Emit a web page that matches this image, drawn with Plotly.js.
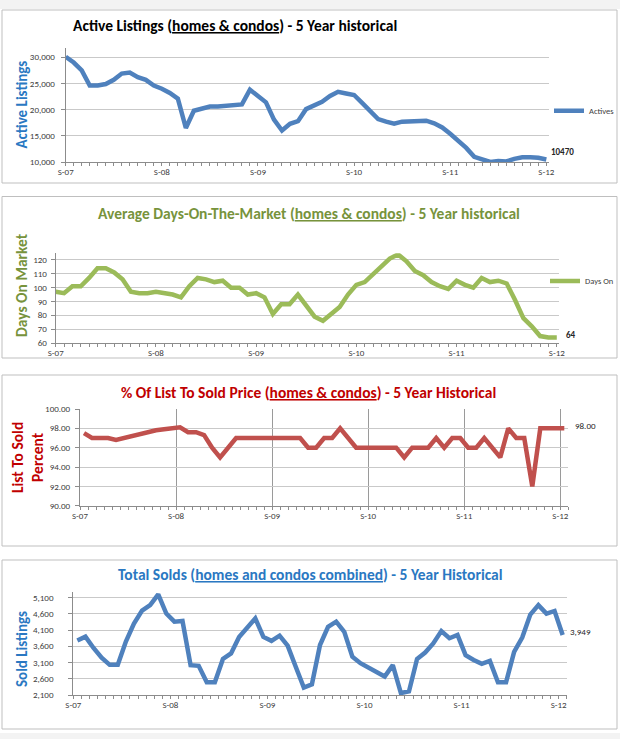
<!DOCTYPE html>
<html><head><meta charset="utf-8">
<script src="https://cdn.plot.ly/plotly-3.0.1.min.js"></script>
<style>html,body{margin:0;padding:0;background:#fff;overflow:hidden;}#c{width:620px;height:739px;}</style>
</head><body><div id="c"></div>
<script>
// ---- data (monthly, Sep-07 .. Sep-12) ----
const yearLabels = ["S-07","S-08","S-09","S-10","S-11","S-12"];
const actives = [30100,29000,27500,24600,24600,24900,25700,26900,27100,26200,
  25700,24600,24000,23200,22100,16500,19800,20100,20600,20600,
  20800,20900,21000,23800,22700,21400,18100,16000,17300,17800,
  20100,20900,21500,22600,23400,23100,22800,21300,19800,18200,
  17700,17300,17700,17800,17800,17900,17400,16600,15400,14100,
  12700,11000,10400,10000,10200,10100,10600,10900,10900,10800,10470];
const daysOn = [97,96,101,101,107,114,114,111,106,97,
  96,96,97,96,95,93,101,107,106,104,
  105,100,100,95,96,93,81,88,88,95,
  87,79,76,81,86,95,102,104,110,115,
  121,124,119,112,109,104,101,99,105,102,
  100,107,104,105,103,91,78,72,65,64,64];
const listToSold = [97.5,97.0,97.0,97.0,96.8,97.0,97.3,97.4,97.6,97.8,
  97.9,98.0,98.1,97.6,97.6,97.3,96.0,95.0,96.0,97.0,
  97,97,97,97,97,97,97,97,96,96,
  97,97,98,97,96,96,96,96,96,96,
  95,96,96,96,97,96,97,97,96,96,
  97,96,95,98,97,97,92,98,98,98,98];
const solds = [3780,3900,3550,3250,3030,3030,3750,4300,4700,4870,
  5200,4610,4360,4380,3020,3000,2490,2490,3210,3380,
  3890,4200,4460,3890,3770,3930,3620,2970,2330,2430,
  3640,4200,4360,4050,3280,3080,2940,2820,2670,3020,
  2160,2210,3210,3410,3690,4070,3850,3950,3330,3180,
  3060,3150,2490,2490,3430,3870,4580,4870,4610,4690,3949];

const W = 620, H = 739;
const px = v => v / W, py = v => 1 - v / H;
const idx = actives.map((_, i) => i);
const FONT = "Carlito, Lato, 'Liberation Sans', sans-serif";
const tickFont = {family: FONT, size: 9, color: '#404040'};
const AX = '#8c8c8c', GRID = '#c9c9c9';

function xAxis(d0, d1, range, tick0, anchor, vgrid) {
  return {
    domain: [px(d0), px(d1)], range: range, anchor: anchor,
    tickmode: 'array', tickvals: yearLabels.map((_, k) => tick0 + 12 * k), ticktext: yearLabels,
    showline: true, linecolor: AX, linewidth: 1, ticks: '',
    minor: {tickmode: 'linear', tick0: tick0, dtick: 1, ticks: 'outside', ticklen: 3, tickcolor: AX, showgrid: false},
    showgrid: !!vgrid, gridcolor: '#9a9a9a', gridwidth: 1, zeroline: false,
    tickfont: tickFont, ticklabelstandoff: 1, fixedrange: true
  };
}
function yAxis(t0, t1, range, tick0, dtick, fmt, anchor, standoff) {
  return {
    domain: [py(t1), py(t0)], range: range, anchor: anchor,
    tickmode: 'linear', tick0: tick0, dtick: dtick, tickformat: fmt,
    showline: true, linecolor: AX, ticks: 'outside', ticklen: 4, tickcolor: AX,
    showgrid: true, gridcolor: GRID, gridwidth: 1, zeroline: false,
    tickfont: tickFont, ticklabelstandoff: standoff, fixedrange: true
  };
}

const data = [
  {x: idx, y: actives, name: 'Actives', type: 'scatter', mode: 'lines', xaxis: 'x', yaxis: 'y',
   line: {color: '#4F81BD', width: 4.5}, legend: 'legend'},
  {x: idx, y: daysOn, name: 'Days On', type: 'scatter', mode: 'lines', xaxis: 'x2', yaxis: 'y2',
   line: {color: '#9BBB59', width: 4.5}, legend: 'legend2'},
  {x: idx, y: listToSold, name: 'List To Sold', type: 'scatter', mode: 'lines', xaxis: 'x3', yaxis: 'y3',
   line: {color: '#C0504D', width: 4.5}, showlegend: false},
  {x: idx, y: solds, name: 'Solds', type: 'scatter', mode: 'lines', xaxis: 'x4', yaxis: 'y4',
   line: {color: '#4F81BD', width: 4.5}, showlegend: false}
];

const last = idx.length - 1;
const U = s => '<span style="text-decoration:underline">' + s + '</span>';
function title(text, x, y, color, size) {
  return {text: '<b>' + text + '</b>', xref: 'paper', yref: 'paper', x: px(x), y: py(y),
    xanchor: 'center', yanchor: 'middle', showarrow: false, font: {family: FONT, size: size, color: color}};
}
function ytitle(text, x, y, color, size) {
  return {text: '<b>' + text + '</b>', xref: 'paper', yref: 'paper', x: px(x), y: py(y),
    xanchor: 'center', yanchor: 'middle', textangle: -90, showarrow: false,
    font: {family: FONT, size: size, color: color}};
}
function lastLabel(text, xr, yr, yv, xs, ys, bold) {
  return {text: bold ? '<b>' + text + '</b>' : text, xref: xr, yref: yr, x: last, y: yv,
    xanchor: 'left', yanchor: 'middle', xshift: xs, yshift: ys, showarrow: false,
    font: {family: FONT, size: 9, color: '#262626'}};
}

const annotations = [
  title('Active Listings (' + U('homes &amp; condos') + ') - 5 Year historical', 235, 25, '#000000', 15.5),
  title('Average Days-On-The-Market (' + U('homes &amp; condos') + ') - 5 Year historical', 309, 213, '#77933C', 15.5),
  title('% Of List To Sold Price (' + U('homes &amp; condos') + ') - 5 Year Historical', 308, 392, '#C00000', 15.5),
  title('Total Solds (' + U('homes and condos combined') + ') - 5 Year Historical', 310, 574, '#2A78C2', 15.5),
  ytitle('Active Listings', 21.5, 105, '#2A78C2', 15),
  ytitle('Days On Market', 21, 285, '#77933C', 15.5),
  ytitle('List To Sold<br>Percent', 27, 458, '#C00000', 15.5),
  ytitle('Sold Listings', 22, 649, '#2A78C2', 15),
  lastLabel(String(actives[last]), 'x', 'y', actives[last], 3, 8, true),
  lastLabel(String(daysOn[last]), 'x2', 'y2', daysOn[last], 7, 3, true),
  lastLabel(listToSold[last].toFixed(2), 'x3', 'y3', listToSold[last], 9, 3, false),
  lastLabel(solds[last].toLocaleString('en-US'), 'x4', 'y4', solds[last], 5, 4, false)
];

function box(y0, y1) {
  return {type: 'rect', xref: 'paper', yref: 'paper', x0: px(2), x1: px(617), y0: py(y1), y1: py(y0),
    line: {color: '#bfbfbf', width: 1}, fillcolor: 'rgba(0,0,0,0)', layer: 'below'};
}
function band(y0, y1) {
  return {type: 'rect', xref: 'paper', yref: 'paper', x0: 0, x1: 1, y0: py(y1), y1: py(y0),
    line: {width: 0}, fillcolor: '#f3f3f3', layer: 'below'};
}

const legendCommon = {xanchor: 'left', yanchor: 'middle', bgcolor: 'rgba(0,0,0,0)', borderwidth: 0,
  font: {family: FONT, size: 8.5, color: '#404040'}, itemwidth: 30, tracegroupgap: 0};

const layout = {
  width: W, height: H, margin: {l: 0, r: 0, t: 0, b: 0, pad: 0, autoexpand: false},
  paper_bgcolor: '#ffffff', plot_bgcolor: 'rgba(0,0,0,0)', showlegend: true,
  xaxis: xAxis(65.7, 549.3, [0, 60.37], 0, 'y'),
  yaxis: yAxis(48.3, 162, [10000, 31720], 10000, 5000, ',d', 'x', 4),
  xaxis2: xAxis(55.7, 559.3, [0, 60.3], 0, 'y2'),
  yaxis2: yAxis(253.3, 343, [60, 124.8], 60, 10, 'd', 'x2', 2),
  xaxis3: xAxis(80, 568.3, [-0.5, 60.5], -0.5, 'y3', true),
  yaxis3: yAxis(409, 505.7, [90, 100], 90, 2, '.2f', 'x3', 3),
  xaxis4: xAxis(73.3, 566.7, [-0.5, 60.5], -0.5, 'y4'),
  yaxis4: yAxis(592, 695, [2100, 5275], 2100, 500, ',d', 'x4', 13),
  legend: Object.assign({x: px(549), y: py(110.7)}, legendCommon),
  legend2: Object.assign({x: px(545), y: py(281)}, legendCommon),
  annotations: annotations,
  shapes: [band(0, 9), band(733, 739), box(10, 183), box(196.5, 358), box(375, 546), box(560, 729)]
};

Plotly.newPlot('c', data, layout, {displayModeBar: false, staticPlot: true});
</script></body></html>
